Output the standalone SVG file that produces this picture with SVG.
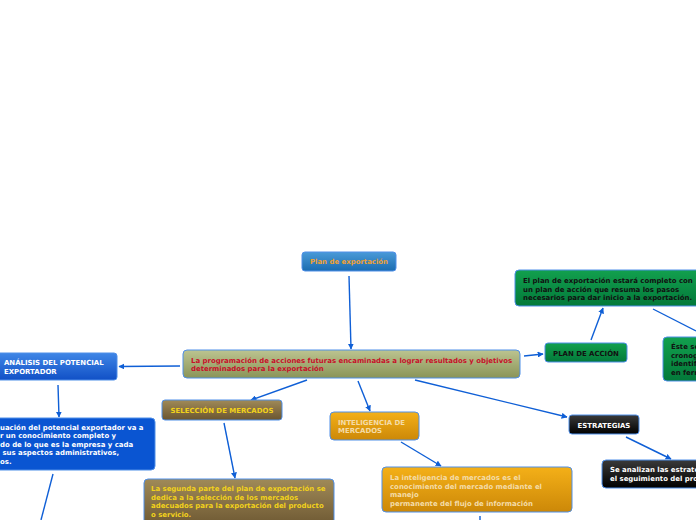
<svg xmlns="http://www.w3.org/2000/svg" width="696" height="520" viewBox="0 0 696 520">
<style>
.t{font-family:"DejaVu Sans",Verdana,sans-serif;font-weight:bold;font-size:6.95px}
.box{stroke:#4f8fe8;stroke-width:1}
.c{fill:none;stroke:#0f5fd6;stroke-width:1.4}
</style>
<defs>
<linearGradient id="gBlue" x1="0" y1="0" x2="0" y2="1"><stop offset="0" stop-color="#4a9ad8"/><stop offset="1" stop-color="#1a6cb0"/></linearGradient>
<linearGradient id="gOlive" x1="0" y1="0" x2="0" y2="1"><stop offset="0" stop-color="#bcc490"/><stop offset="1" stop-color="#8a9458"/></linearGradient>
<linearGradient id="gAn" x1="0" y1="0" x2="0" y2="1"><stop offset="0" stop-color="#3f86e6"/><stop offset="1" stop-color="#1150c6"/></linearGradient>
<linearGradient id="gBrown" x1="0" y1="0" x2="0" y2="1"><stop offset="0" stop-color="#a08a58"/><stop offset="1" stop-color="#6a5530"/></linearGradient>
<linearGradient id="gOrange" x1="0" y1="0" x2="0" y2="1"><stop offset="0" stop-color="#f4b018"/><stop offset="1" stop-color="#cc8808"/></linearGradient>
<linearGradient id="gBlack" x1="0" y1="0" x2="0" y2="1"><stop offset="0" stop-color="#3a3a3a"/><stop offset="1" stop-color="#000"/></linearGradient>
<linearGradient id="gGreen" x1="0" y1="0" x2="0" y2="1"><stop offset="0" stop-color="#12a04e"/><stop offset="1" stop-color="#03793a"/></linearGradient>
<marker id="ah" viewBox="0 0 10 10" refX="9" refY="5" markerWidth="6" markerHeight="6" markerUnits="userSpaceOnUse" orient="auto"><path d="M0,0L10,5L0,10z" fill="#0f5fd6"/></marker>
</defs>
<rect width="696" height="520" fill="#fff"/>

<g id="connectors">
<line class="c" x1="349" y1="276" x2="351" y2="349" marker-end="url(#ah)"/>
<line class="c" x1="180" y1="366" x2="119" y2="366.5" marker-end="url(#ah)"/>
<line class="c" x1="58" y1="385" x2="59" y2="417" marker-end="url(#ah)"/>
<line class="c" x1="53" y1="474" x2="41" y2="520"/>
<line class="c" x1="307" y1="380" x2="251" y2="400" marker-end="url(#ah)"/>
<line class="c" x1="224" y1="423" x2="235" y2="478" marker-end="url(#ah)"/>
<line class="c" x1="358" y1="381" x2="370" y2="411" marker-end="url(#ah)"/>
<line class="c" x1="401" y1="442" x2="441" y2="466" marker-end="url(#ah)"/>
<line class="c" x1="480" y1="516" x2="480" y2="520"/>
<line class="c" x1="415" y1="380" x2="567" y2="417" marker-end="url(#ah)"/>
<line class="c" x1="626" y1="437" x2="671" y2="459" marker-end="url(#ah)"/>
<line class="c" x1="524" y1="356" x2="543" y2="354" marker-end="url(#ah)"/>
<line class="c" x1="591" y1="340" x2="603" y2="308" marker-end="url(#ah)"/>
<line class="c" x1="653" y1="309" x2="696" y2="331"/>
</g>

<g id="plan">
<rect class="box" x="302" y="252" width="94" height="19" rx="3" fill="url(#gBlue)"/>
<text class="t" x="349" y="264" text-anchor="middle" fill="#f0a030">Plan de exportación</text>
</g>

<g id="central">
<rect class="box" x="183" y="350" width="337" height="28" rx="4" fill="url(#gOlive)"/>
<text class="t" fill="#c8102a"><tspan x="191" y="362.5">La programación de acciones futuras encaminadas a lograr resultados y objetivos</tspan><tspan x="191" y="371">determinados para la exportación</tspan></text>
</g>

<g id="analisis">
<rect class="box" x="-10" y="353" width="127" height="27" rx="3" fill="url(#gAn)"/>
<text class="t" fill="#fff"><tspan x="4" y="365">ANÁLISIS DEL POTENCIAL</tspan><tspan x="4" y="374">EXPORTADOR</tspan></text>
</g>

<g id="analisis-desc">
<rect class="box" x="-10" y="418" width="165" height="52" rx="4" fill="#0a55d2"/>
<text class="t" fill="#fff"><tspan x="0" y="429.5">uación del potencial exportador va a</tspan><tspan x="0" y="438">r un conocimiento completo y</tspan><tspan x="0" y="446.5">do de lo que es la empresa y cada</tspan><tspan x="0" y="455">  sus aspectos administrativos,</tspan><tspan x="0" y="464">os.</tspan></text>
</g>

<g id="seleccion">
<rect class="box" x="162" y="400" width="120" height="20" rx="3" fill="url(#gBrown)"/>
<text class="t" x="222" y="413" text-anchor="middle" fill="#f2d21a">SELECCIÓN DE MERCADOS</text>
</g>

<g id="seleccion-desc">
<rect class="box" x="144" y="479" width="190" height="50" rx="4" fill="url(#gBrown)"/>
<text class="t" fill="#f2d21a"><tspan x="151" y="491">La segunda parte del plan de exportación se</tspan><tspan x="151" y="499.5">dedica a la selección de los mercados</tspan><tspan x="151" y="508">adecuados para la exportación del producto</tspan><tspan x="151" y="516.5">o servicio.</tspan></text>
</g>

<g id="inteligencia">
<rect class="box" x="330" y="412" width="89" height="28" rx="4" fill="url(#gOrange)"/>
<text class="t" fill="#f4dca8"><tspan x="338" y="424.5">INTELIGENCIA DE</tspan><tspan x="338" y="433">MERCADOS</tspan></text>
</g>

<g id="inteligencia-desc">
<rect class="box" x="382" y="467" width="190" height="45" rx="4" fill="url(#gOrange)"/>
<text class="t" fill="#f4dca8"><tspan x="390" y="480">La inteligencia de mercados es el</tspan><tspan x="390" y="488.5">conocimiento del mercado mediante el</tspan><tspan x="390" y="497">manejo</tspan><tspan x="390" y="505.5">permanente del flujo de información</tspan></text>
</g>

<g id="estrategias">
<rect class="box" x="569" y="415" width="70" height="19" rx="3" fill="url(#gBlack)"/>
<text class="t" x="604" y="427.5" text-anchor="middle" fill="#fff">ESTRATEGIAS</text>
</g>

<g id="estrategias-desc">
<rect class="box" x="602" y="460" width="110" height="28" rx="4" fill="url(#gBlack)"/>
<text class="t" fill="#fff"><tspan x="610" y="472">Se analizan las estrate</tspan><tspan x="610" y="480.5">el seguimiento del pro</tspan></text>
</g>

<g id="plan-accion">
<rect class="box" x="545" y="343" width="82" height="19" rx="3" fill="url(#gGreen)"/>
<text class="t" x="586" y="355.5" text-anchor="middle" fill="#111">PLAN DE ACCIÓN</text>
</g>

<g id="plan-accion-desc">
<rect class="box" x="515" y="270" width="190" height="36" rx="4" fill="url(#gGreen)"/>
<text class="t" fill="#111"><tspan x="523" y="283">El plan de exportación estará completo con</tspan><tspan x="523" y="291.5">un plan de acción que resuma los pasos</tspan><tspan x="523" y="300">necesarios para dar inicio a la exportación.</tspan></text>
</g>

<g id="cronograma">
<rect class="box" x="663" y="337" width="50" height="44" rx="4" fill="url(#gGreen)"/>
<text class="t" fill="#111"><tspan x="671" y="349">Éste se</tspan><tspan x="671" y="357.5">cronog</tspan><tspan x="671" y="366">identif</tspan><tspan x="671" y="374.5">en ferr</tspan></text>
</g>
</svg>
